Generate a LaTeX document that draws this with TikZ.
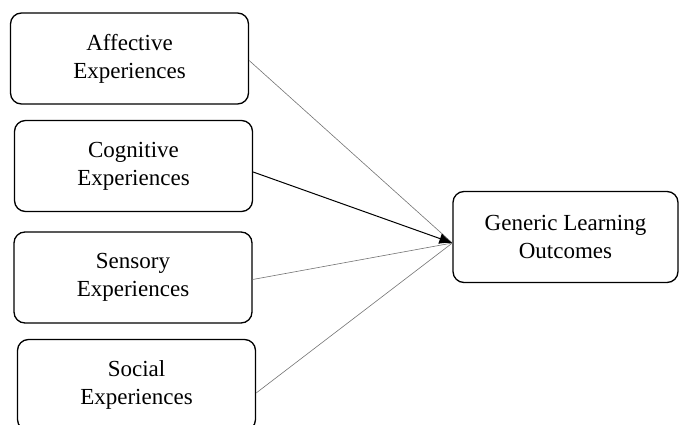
\documentclass[tikz,border=0pt]{standalone}
\usepackage{fontspec}
\setmainfont{Liberation Serif}
\usetikzlibrary{arrows.meta}

\tikzset{
    expbox/.style={draw, line width=1.3pt, rounded corners=11pt, align=center,
        minimum width=238pt, minimum height=91pt, inner sep=0pt,
        font=\fontsize{23}{28}\selectfont},
    link/.style={draw=black!55, line width=0.6pt}
}

\begin{document}
\begin{tikzpicture}[x=1pt, y=-1pt]
    % Fix the page size
    \useasboundingbox (0,0) rectangle (679,425);

    % Experience boxes on the left
    \node[expbox] (aff) at (129.5,58.5) {Affective\\Experiences};
    \node[expbox] (cog) at (133.5,166) {Cognitive\\Experiences};
    \node[expbox] (sen) at (133,277.5) {Sensory\\Experiences};
    \node[expbox] (soc) at (136.5,385) {Social\\Experiences};

    % Outcome box on the right
    \node[expbox, minimum width=225pt] (glo) at (565.5,237) {Generic Learning\\Outcomes};

    % All links meet at one point
    \coordinate (tip) at ([yshift=-6pt]glo.west);

    % Links
    \draw[link] ([yshift=-2pt]aff.east) -- (tip);
    \draw[link] ([yshift=-2pt]sen.east) -- (tip);
    \draw[link] ([yshift=-8pt]soc.east) -- (tip);
    \draw[line width=1pt, -{Latex[length=13pt, width=11pt]}] ([yshift=-6pt]cog.east) -- (tip);
\end{tikzpicture}
\end{document}
